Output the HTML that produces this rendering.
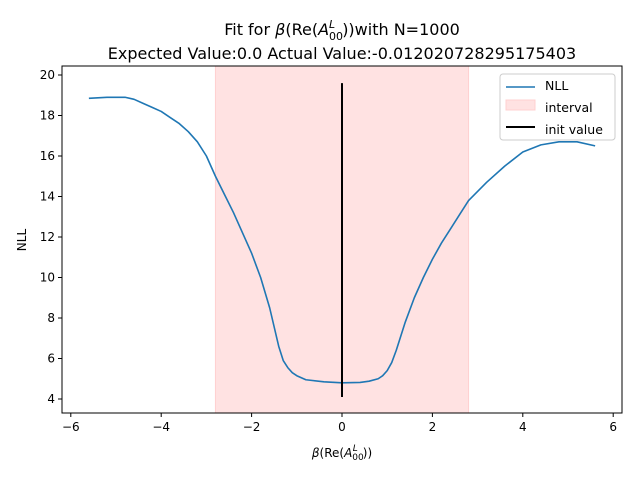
<!DOCTYPE html>
<html><head><meta charset="utf-8"><style>
body{margin:0;background:#fff}
svg{display:block;font-family:"DejaVu Sans","Liberation Sans",sans-serif}
</style></head><body>
<svg id="chart" width="640" height="480" viewBox="0 0 640 480">
<text x="342" y="35" text-anchor="middle" font-size="16">Fit for <tspan font-style="italic">β</tspan>(Re(<tspan font-style="italic">A</tspan><tspan font-size="11" dy="5">00</tspan><tspan font-size="11" font-style="italic" dx="-14" dy="-12">L</tspan><tspan dy="7" dx="7">))with N=1000</tspan></text>
<text x="342" y="59" text-anchor="middle" font-size="16">Expected Value:0.0 Actual Value:-0.012020728295175403</text>
<g id="plot"></g>
<text x="342" y="457" text-anchor="middle" font-size="12"><tspan font-style="italic">β</tspan>(Re(<tspan font-style="italic">A</tspan><tspan font-size="9" dy="3">00</tspan><tspan font-size="9" font-style="italic" dx="-11" dy="-9">L</tspan><tspan dy="6" dx="5">))</tspan></text>
<text x="26" y="240" text-anchor="middle" font-size="12" transform="rotate(-90 26 240)">NLL</text>
</svg>
<script>
const xVals=[-5.6,-5.2,-4.8,-4.6,-4.4,-4.2,-4.0,-3.8,-3.6,-3.4,-3.2,-3.0,-2.8,-2.6,-2.4,-2.2,-2.0,-1.8,-1.6,-1.4,-1.3,-1.2,-1.1,-1.0,-0.8,-0.4,0,0.4,0.6,0.8,0.9,1.0,1.1,1.2,1.4,1.6,1.8,2.0,2.2,2.4,2.6,2.8,3.2,3.6,4.0,4.4,4.8,5.2,5.6];
const nllVals=[18.85,18.9,18.9,18.8,18.6,18.4,18.2,17.9,17.6,17.2,16.7,16.0,15.0,14.1,13.2,12.2,11.2,10.0,8.5,6.6,5.9,5.55,5.3,5.15,4.95,4.85,4.8,4.82,4.88,5.0,5.15,5.4,5.8,6.4,7.8,9.0,10.0,10.9,11.7,12.4,13.1,13.8,14.7,15.5,16.2,16.55,16.7,16.7,16.5];
const xTicks=[-6,-4,-2,0,2,4,6];
const yTicks=[4,6,8,10,12,14,16,18,20];
const intervalRange=[-2.8,2.8];
const initValue=[0,4.1,19.6];
const L=62,R=622,T=66,B=413;
const sx=v=>342+v*45.2;
const sy=v=>399-(v-4)*20.25;
const NS='http://www.w3.org/2000/svg';
const g=document.getElementById('plot');
function mk(t,a){const e=document.createElementNS(NS,t);for(const k in a)e.setAttribute(k,a[k]);g.appendChild(e);return e;}
let e=mk('rect',{x:sx(intervalRange[0]),y:T,width:sx(intervalRange[1])-sx(intervalRange[0]),height:B-T,fill:'#ffe2e2',stroke:'#ffd0d0'});


e=mk('polyline',{points:xVals.map((x,i)=>sx(x)+','+sy(nllVals[i])).join(' '),fill:'none',stroke:'#1f77b4','stroke-width':1.6,'stroke-linejoin':'round'});


e=mk('line',{x1:sx(initValue[0]),x2:sx(initValue[0]),y1:sy(initValue[1]),y2:sy(initValue[2]),stroke:'#000','stroke-width':2});


e=mk('rect',{x:L,y:T,width:R-L,height:B-T,fill:'none',stroke:'#000','stroke-width':1});


xTicks.forEach(t=>{
 mk('line',{x1:sx(t),x2:sx(t),y1:B,y2:B+4,stroke:'#000'});
 const tx=mk('text',{x:sx(t),y:B+18,'text-anchor':'middle','font-size':12});
 tx.textContent=t<0?'\u2212'+(-t):t;
 
 
});
yTicks.forEach(t=>{
 mk('line',{x1:L-4,x2:L,y1:sy(t),y2:sy(t),stroke:'#000'});
 const tx=mk('text',{x:L-7,y:sy(t)+4,'text-anchor':'end','font-size':12});
 tx.textContent=t;
 
 
});
e=mk('rect',{x:500,y:74,width:115,height:66,rx:3,fill:'#fff','fill-opacity':0.8,stroke:'#ccc'});


mk('line',{x1:506,x2:535,y1:87,y2:87,stroke:'#1f77b4','stroke-width':1.6});
mk('rect',{x:506,y:100,width:29,height:10,fill:'#ffe2e2',stroke:'#ffd0d0'});
mk('line',{x1:506,x2:535,y1:127,y2:127,stroke:'#000','stroke-width':2});
[['NLL',91],['interval',113],['init value',135]].forEach(([s,y])=>{
 const tx=mk('text',{x:545,y:y-1,'font-size':12.5});
 tx.textContent=s;
 
 
});
</script>
</body></html>
